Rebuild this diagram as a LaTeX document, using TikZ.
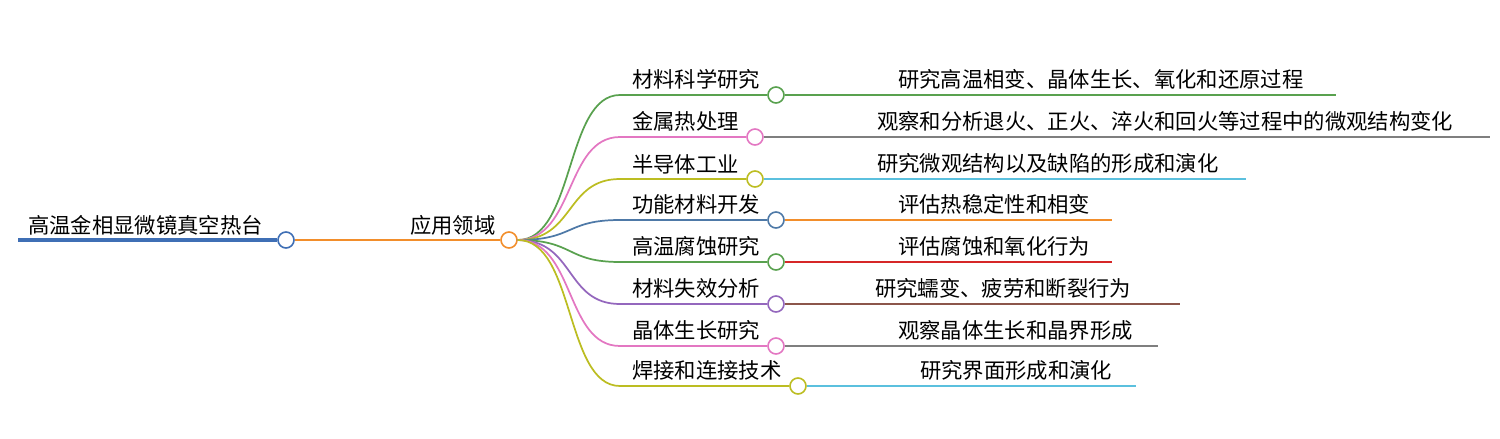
\documentclass[tikz,border=0pt]{standalone}
\usepackage{fontspec}
\setmainfont{Noto Sans CJK SC}
\definecolor{cblue}{HTML}{3F6FB5}
\definecolor{corange}{HTML}{F28E2B}
\definecolor{cgreen}{HTML}{59A14F}
\definecolor{cpink}{HTML}{E377C2}
\definecolor{colive}{HTML}{BCBD22}
\definecolor{cbl}{HTML}{4E79A7}
\definecolor{cpurp}{HTML}{9467BD}
\definecolor{cgrey}{HTML}{7F7F7F}
\definecolor{ccyan}{HTML}{5BC0DE}
\definecolor{cred}{HTML}{D62728}
\definecolor{cbrown}{HTML}{8C564B}
\tikzset{dot/.style={circle,draw,fill=white,line width=1.2pt,minimum size=12pt,inner sep=0pt},
 txt/.style={anchor=south west,inner sep=0pt,font=\fontsize{16}{16}\selectfont},
 ln/.style={line width=1.3pt}}
\begin{document}
\begin{tikzpicture}[x=0.75pt,y=-0.75pt]
\useasboundingbox (0,0) rectangle (1500,439);
\node[txt] (root) at (28,236) {高温金相显微镜真空热台};
\node[dot,draw=cblue] (rc) at (286,240) {};
\coordinate (rs) at (18,240);
\draw[cblue,line width=3.5pt] (rs) -- (rc.west);
\node[txt] (mid) at (410,236) {应用领域};
\node[dot,draw=corange] (mc) at (509,240) {};
\draw[corange,ln] (rc.east) -- (mc.west);
\foreach \i/\t/\y/\cx/\cc/\leaf/\lx/\le/\lc in {
 1/材料科学研究/95/776/cgreen/研究高温相变、晶体生长、氧化和还原过程/898/1336/cgreen,
 2/金属热处理/137/755/cpink/观察和分析退火、正火、淬火和回火等过程中的微观结构变化/877/1490/cgrey,
 3/半导体工业/179/755/colive/研究微观结构以及缺陷的形成和演化/877/1246/ccyan,
 4/功能材料开发/220/776/cbl/评估热稳定性和相变/898/1112/corange,
 5/高温腐蚀研究/262/776/cgreen/评估腐蚀和氧化行为/898/1112/cred,
 6/材料失效分析/304/776/cpurp/研究蠕变、疲劳和断裂行为/875/1180/cbrown,
 7/晶体生长研究/346/776/cpink/观察晶体生长和晶界形成/898/1158/cgrey,
 8/焊接和连接技术/386/798/colive/研究界面形成和演化/920/1136/ccyan}{
 \node[txt] (c\i) at (632,\y-5) {\t};
 \node[dot,draw=\cc] (d\i) at (\cx,\y) {};
 \coordinate (s\i) at (620,\y);
 \draw[\cc,ln] (mc.east) .. controls (575,240) and (565,\y) .. (s\i) -- (d\i.west);
 \node[txt] (l\i) at (\lx,\y-5) {\leaf};
 \coordinate (e\i) at (\le,\y);
 \draw[\lc,ln] (d\i.east) -- (e\i);
}
\end{tikzpicture}
\end{document}
